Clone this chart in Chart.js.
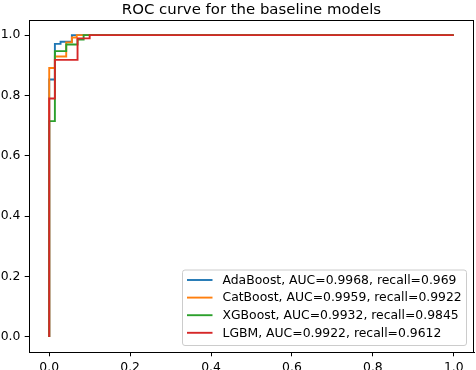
<!DOCTYPE html>
<html>
<head>
<meta charset="utf-8">
<script src="https://cdn.jsdelivr.net/npm/chart.js@4.4.1/dist/chart.umd.min.js"></script>
<style>
  body { margin: 0; background: #fff; }
  canvas { display: block; }
</style>
</head>
<body>
<canvas class="chart-js" width="476" height="370"></canvas>
<script>
const ctx = document.querySelector('.chart-js').getContext('2d');

const TITLE = 'ROC curve for the baseline models';
const MODELS = ['AdaBoost', 'CatBoost', 'XGBoost', 'LGBM'];
const AUC = ['0.9968', '0.9959', '0.9932', '0.9922'];
const RECALL = ['0.969', '0.9922', '0.9845', '0.9612'];
const COLORS = ['#1f77b4', '#ff7f0e', '#2ca02c', '#d62728'];
const TICKS = [0, 0.2, 0.4, 0.6, 0.8, 1.0];

// roc points (fpr, tpr)
const adaFpr = [0, 0, 0.014, 0.028, 0.056, 1];
const adaTpr = [0, 0.853, 0.971, 0.978, 1, 1];
const catFpr = [0, 0, 0.014, 0.042, 0.056, 0.068, 1];
const catTpr = [0, 0.891, 0.929, 0.976, 0.992, 1, 1];
const xgbFpr = [0, 0, 0.014, 0.042, 0.070, 0.085, 1];
const xgbTpr = [0, 0.715, 0.947, 0.969, 0.985, 1, 1];
const lgbFpr = [0, 0, 0.014, 0.070, 0.100, 1];
const lgbTpr = [0, 0.790, 0.918, 0.989, 1, 1];

const FPRS = [adaFpr, catFpr, xgbFpr, lgbFpr];
const TPRS = [adaTpr, catTpr, xgbTpr, lgbTpr];

Chart.defaults.font.family = "'DejaVu Sans', sans-serif";
Chart.defaults.color = '#000';

const toPoints = (xs, ys) => xs.map((x, i) => ({ x: x, y: ys[i] }));

const datasets = MODELS.map((name, i) => ({
    label: `${name}, AUC=${AUC[i]}, recall=${RECALL[i]}`,
    data: toPoints(FPRS[i], TPRS[i]),
    borderColor: COLORS[i],
    backgroundColor: COLORS[i],
    borderWidth: 1.9,
    pointRadius: 0,
    stepped: 'before',          // go right first, then up
    fill: false,
    order: MODELS.length - i   // later series on top, like matplotlib
}));

const frameAndLegend = {
    id: 'frameAndLegend',
    afterDatasetsDraw(chart) {
        const c = chart.ctx;
        const a = chart.chartArea;
        c.save();
        // spines
        c.strokeStyle = '#000';
        c.lineWidth = 1;
        c.strokeRect(a.left + 0.5, a.top + 0.5, a.right - a.left - 1, a.bottom - a.top);

        // title
        c.fillStyle = '#000';
        c.font = "14.9px 'DejaVu Sans'";
        c.textAlign = 'center';
        c.textBaseline = 'alphabetic';
        c.fillText(TITLE, (a.left + a.right) / 2, 14);

        // legend box
        const x0 = 182.5, y0 = 270, x1 = 466.5, y1 = 345.5, r = 2.5;
        c.beginPath();
        c.moveTo(x0 + r, y0);
        c.arcTo(x1, y0, x1, y1, r);
        c.arcTo(x1, y1, x0, y1, r);
        c.arcTo(x0, y1, x0, y0, r);
        c.arcTo(x0, y0, x1, y0, r);
        c.closePath();
        c.fillStyle = 'rgba(255,255,255,0.8)';
        c.fill();
        c.strokeStyle = '#cccccc';
        c.lineWidth = 1;
        c.stroke();

        c.font = "12.4px 'DejaVu Sans'";
        c.textAlign = 'left';
        c.textBaseline = 'middle';
        chart.data.datasets.forEach((ds, i) => {
            const y = 280 + i * 17.6;
            c.strokeStyle = ds.borderColor;
            c.lineWidth = 1.9;
            c.beginPath();
            c.moveTo(187, y);
            c.lineTo(212.5, y);
            c.stroke();
            c.fillStyle = '#000';
            c.fillText(ds.label, 222.5, y + 0.5);
        });
        c.restore();
    }
};

const axisCommon = {
    type: 'linear',
    min: -0.05,
    max: 1.05,
    afterBuildTicks(scale) {
        scale.ticks = TICKS.map(v => ({ value: v }));
    },
    ticks: {
        padding: 4.3,
        font: { size: 12.4 },
        color: '#000',
        callback: v => v.toFixed(1)
    },
    grid: {
        drawOnChartArea: false,
        drawTicks: true,
        tickLength: 4.3,
        tickColor: '#000',
        tickWidth: 1
    },
    border: { display: true, color: '#000', width: 1 }
};

new Chart(ctx, {
    type: 'line',
    data: { datasets },
    options: {
        responsive: false,
        animation: false,
        devicePixelRatio: 1,
        layout: { padding: { top: 20, right: 2, left: 0, bottom: 0 } },
        plugins: {
            legend: { display: false },
            title: { display: false },
            tooltip: { enabled: false }
        },
        scales: {
            x: Object.assign({}, axisCommon, {
                position: 'bottom',
                afterFit(scale) { scale.height = 18; }
            }),
            y: Object.assign({}, axisCommon, {
                position: 'left',
                afterFit(scale) { scale.width = 29; }
            })
        }
    },
    plugins: [frameAndLegend]
});
</script>
</body>
</html>
